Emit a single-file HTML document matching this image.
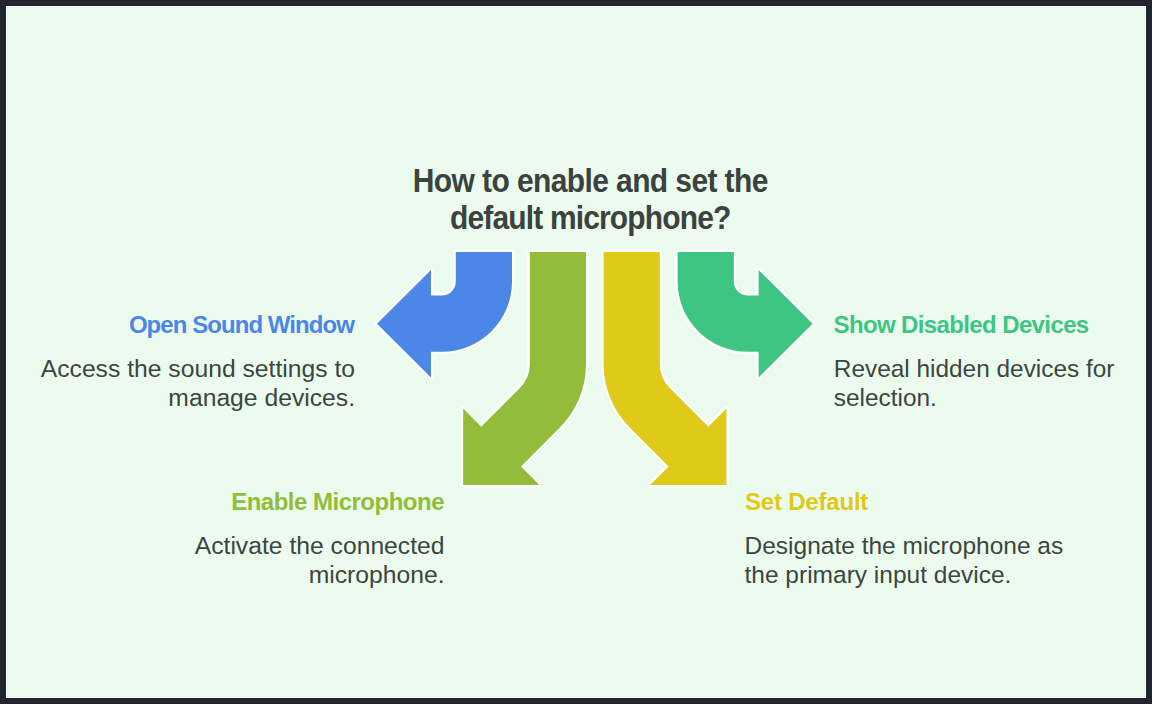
<!DOCTYPE html>
<html><head><meta charset="utf-8">
<style>
html,body{margin:0;padding:0;}
body{width:1152px;height:704px;background:#22252f;position:relative;overflow:hidden;font-family:"Liberation Sans",sans-serif;}
#frame{position:absolute;left:6px;top:6px;width:1140px;height:692px;background:#ebfcee;box-shadow:0 0 0 1px #ffffff inset;}
svg{position:absolute;left:0;top:0;}
.t{position:absolute;white-space:nowrap;}
.title{font-weight:bold;font-size:30px;color:#3c423e;text-align:center;line-height:36.5px;transform:scaleY(1.09);transform-origin:50% 28.64px;}
.lab{font-weight:bold;font-size:23px;line-height:28px;}
.desc{font-size:24.5px;color:#3b463e;line-height:29.5px;}
.r{text-align:right;}
</style></head><body>
<div id="frame"></div>
<svg width="1152" height="704" viewBox="0 0 1152 704">
<g stroke="#ffffff" stroke-width="4.5" stroke-linejoin="round" paint-order="stroke">
<path fill="#4c86e6" d="M 455.8 252 L 512.0 252 L 512.0 281.6 A 70.2 70.2 0 0 1 441.8 351.8 L 431 351.8 L 431 377.50 L 377 323.70 L 431 269.90 L 431 295.6 L 441.8 295.6 A 14 14 0 0 0 455.8 281.6 Z"/>
<path fill="#93bc3a" d="M 529.8 252 L 586.0 252 L 586.0 364 A 90.2 90.2 0 0 1 559.58 427.78 L 520.98 466.38 L 539.50 484.9 L 463.2 484.9 L 463.2 408.60 L 481.24 426.64 L 519.84 388.04 A 34 34 0 0 0 529.8 364 Z"/>
<g transform="translate(1189.6,0) scale(-1,1)">
<path fill="#dfc919" d="M 529.8 252 L 586.0 252 L 586.0 364 A 90.2 90.2 0 0 1 559.58 427.78 L 520.98 466.38 L 539.50 484.9 L 463.2 484.9 L 463.2 408.60 L 481.24 426.64 L 519.84 388.04 A 34 34 0 0 0 529.8 364 Z"/>
<path fill="#3ec584" d="M 455.8 252 L 512.0 252 L 512.0 281.6 A 70.2 70.2 0 0 1 441.8 351.8 L 431 351.8 L 431 377.50 L 377 323.70 L 431 269.90 L 431 295.6 L 441.8 295.6 A 14 14 0 0 0 455.8 281.6 Z"/>
</g>
</g>
</svg>
<div class="t title" id="title1" style="left:390.3px;top:164.1px;width:400px;letter-spacing:-0.6px;">How to enable and set the</div>
<div class="t title" id="title2" style="left:390.3px;top:200.66px;width:400px;letter-spacing:-0.85px;">default microphone?</div>
<div class="t lab r" id="l1" style="right:798px;top:311px;font-size:24px;letter-spacing:-0.94px;color:#4c86e6;">Open Sound Window</div>
<div class="t desc r" id="d1" style="right:797px;top:353.55px;font-size:24.7px;">Access the sound settings to<br>manage devices.</div>
<div class="t lab r" id="l2" style="right:708px;top:488px;font-size:24px;letter-spacing:-0.5px;color:#93bc3a;">Enable Microphone</div>
<div class="t desc r" id="d2" style="right:707.5px;top:530.95px;font-size:24.7px;">Activate the connected<br>microphone.</div>
<div class="t lab" id="l3" style="left:833.5px;top:311px;font-size:24px;letter-spacing:-0.62px;color:#3ec584;">Show Disabled Devices</div>
<div class="t desc" id="d3" style="left:833.8px;top:353.55px;font-size:24.4px;">Reveal hidden devices for<br>selection.</div>
<div class="t lab" id="l4" style="left:745px;top:488px;font-size:24px;letter-spacing:-0.2px;color:#dfc919;">Set Default</div>
<div class="t desc" id="d4" style="left:744.5px;top:530.95px;font-size:24.5px;">Designate the microphone as<br>the primary input device.</div>
</body></html>
